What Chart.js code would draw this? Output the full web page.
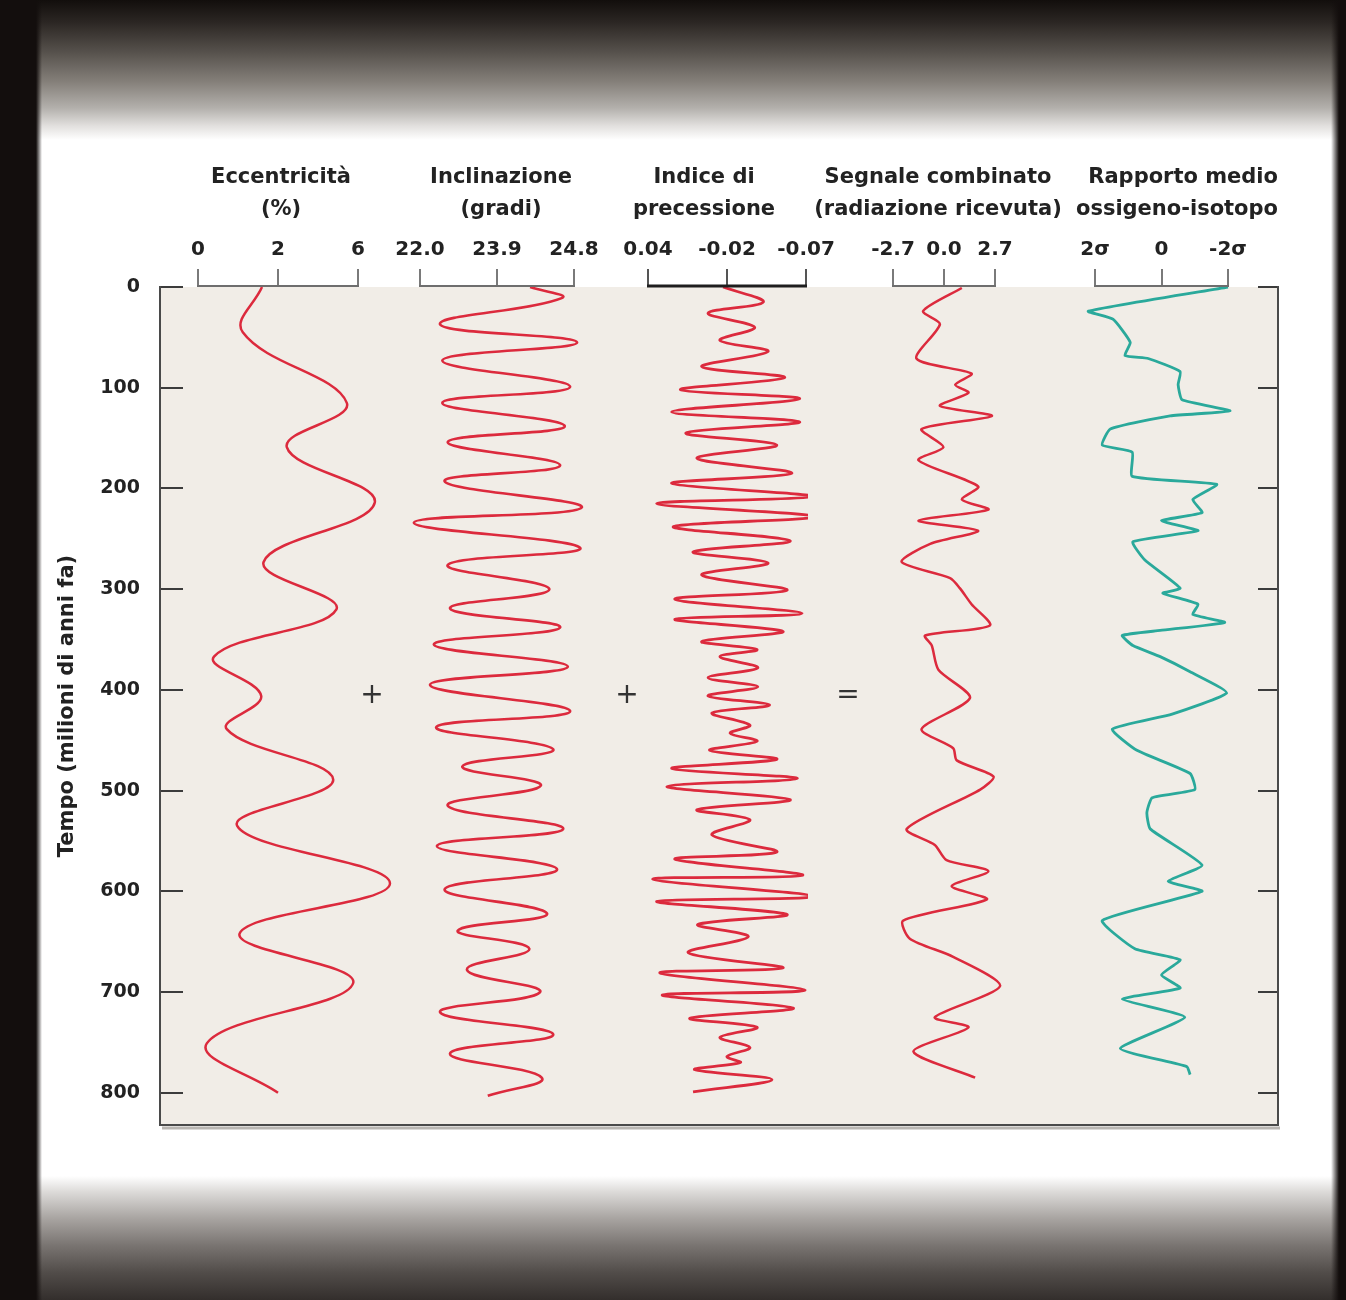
<!DOCTYPE html>
<html>
<head>
<meta charset="utf-8">
<script src="https://cdn.jsdelivr.net/npm/chart.js@4.4.1/dist/chart.umd.min.js"></script>
<style>
  html, body { margin: 0; padding: 0; }
  body {
    width: 1346px; height: 1300px; overflow: hidden;
    background:
      linear-gradient(to right, #130e0d 0px, #130e0d 36px, rgba(19,14,13,0) 42px, rgba(19,14,13,0) 1331px, #130e0d 1339px),
      linear-gradient(to bottom, #120e0c 0px, #2b2623 22px, #56514c 52px, #85807a 82px, #b3b0ac 108px, #e2e0de 126px, #ffffff 140px, #ffffff 1176px, #dcdad8 1192px, #a9a5a2 1218px, #7a7572 1245px, #524d4a 1272px, #332e2c 1300px);
  }
  #wrap { position: absolute; left: 0; top: 0; width: 1346px; height: 1300px; }
</style>
</head>
<body>
<div id="wrap"><canvas id="chart"></canvas></div>
<script>
// time axis (milioni di anni fa)
const timeTicks = [0, 100, 200, 300, 400, 500, 600, 700, 800];

// column headers and their three tick labels (left, middle, right)
const colTitles = [
  ['Eccentricità', '(%)'],
  ['Inclinazione', '(gradi)'],
  ['Indice di', 'precessione'],
  ['Segnale combinato', '(radiazione ricevuta)'],
  ['Rapporto medio', 'ossigeno-isotopo']
];
const colTickLabels = [
  ['0', '2', '6'],
  ['22.0', '23.9', '24.8'],
  ['0.04', '-0.02', '-0.07'],
  ['-2.7', '0.0', '2.7'],
  ['2σ', '0', '-2σ']
];

// curve values: position on each column scale (-1 = left tick, 0 = middle, 1 = right tick)
const eccTime = [0, 45, 115, 159, 214, 273, 320, 367, 406, 439, 489, 535, 592, 642, 691, 751, 800];
const eccValue = [-0.2, -0.44, 0.86, 0.11, 1.21, -0.18, 0.73, -0.8, -0.21, -0.64, 0.69, -0.51, 1.4, -0.48, 0.94, -0.89, 0.0];

const inclTime = [0, 11, 37, 55, 73, 99, 115, 138, 154, 177, 193, 219, 234, 259, 276, 300, 319, 338, 355, 377,
  395, 421, 437, 459, 476, 495, 515, 538, 555, 578, 598, 622, 639, 657, 678, 700, 720, 742, 761, 785, 803];
const inclValue = [0.43, 0.84, -0.74, 1.04, -0.71, 0.95, -0.71, 0.88, -0.64, 0.82, -0.68, 1.10, -1.08, 1.08, -0.64, 0.68, -0.61, 0.82, -0.82, 0.92,
  -0.87, 0.95, -0.79, 0.73, -0.45, 0.57, -0.64, 0.86, -0.78, 0.78, -0.68, 0.65, -0.51, 0.42, -0.39, 0.56, -0.74, 0.73, -0.61, 0.58, -0.12];

const precTime = [0, 15, 26, 40, 53, 64, 79, 90, 102, 111, 124, 134, 145, 157, 170, 185, 195, 208, 215, 228,
  238, 252, 263, 274, 286, 301, 310, 324, 330, 342, 352, 360, 367, 378, 388, 397, 406, 415, 423, 435,
  443, 451, 460, 469, 478, 488, 496, 509, 519, 529, 544, 561, 568, 584, 588, 605, 610, 623, 633, 645,
  661, 676, 681, 698, 703, 716, 726, 735, 745, 755, 764, 770, 777, 787, 799];
const precValue = [-0.05, 0.46, -0.24, 0.35, -0.09, 0.52, -0.32, 0.73, -0.59, 0.92, -0.70, 0.92, -0.52, 0.63, -0.38, 0.82, -0.70, 1.09, -0.89, 1.11,
  -0.68, 0.80, -0.43, 0.52, -0.32, 0.76, -0.66, 0.95, -0.66, 0.71, -0.32, 0.38, -0.09, 0.39, -0.24, 0.39, -0.24, 0.54, -0.19, 0.29,
  0.04, 0.38, -0.22, 0.63, -0.70, 0.89, -0.76, 0.80, -0.38, 0.29, -0.19, 0.63, -0.66, 0.96, -0.94, 1.09, -0.89, 0.76, -0.37, 0.27,
  -0.49, 0.71, -0.85, 0.99, -0.82, 0.84, -0.47, 0.38, -0.09, 0.29, 0.0, 0.17, -0.41, 0.57, -0.43];

const combTime = [1, 24, 37, 71, 86, 97, 105, 118, 128, 141, 159, 172, 198, 211, 221, 232, 242, 255, 273, 289,
  299, 315, 336, 346, 356, 380, 408, 439, 458, 470, 486, 499, 538, 554, 569, 580, 595, 608, 629, 647,
  665, 694, 725, 735, 759, 785];
const combValue = [0.35, -0.41, -0.08, -0.54, 0.54, 0.22, 0.48, -0.08, 0.94, -0.44, -0.01, -0.50, 0.67, 0.35, 0.87, -0.50, 0.67, -0.27, -0.83, 0.12,
  0.31, 0.54, 0.90, -0.37, -0.24, -0.11, 0.51, -0.44, 0.18, 0.25, 0.97, 0.71, -0.73, -0.18, 0.05, 0.87, 0.15, 0.84, -0.80, -0.67,
  0.18, 1.10, -0.18, 0.48, -0.60, 0.61];

const oxyTime = [0, 24, 32, 55, 68, 71, 84, 97, 112, 123, 128, 141, 157, 164, 188, 196, 211, 224, 232, 242,
  253, 271, 299, 304, 315, 325, 333, 341, 346, 356, 367, 382, 403, 424, 439, 460, 483, 499, 507, 522,
  538, 574, 590, 600, 629, 657, 668, 683, 696, 707, 725, 756, 774, 782];
const oxyValue = [1.0, -1.1, -0.73, -0.47, -0.55, -0.2, 0.28, 0.25, 0.31, 1.03, 0.13, -0.77, -0.89, -0.44, -0.44, 0.83, 0.47, 0.61, 0.0, 0.55,
  -0.43, -0.25, 0.28, 0.02, 0.55, 0.47, 0.95, -0.02, -0.59, -0.43, -0.02, 0.43, 0.98, 0.16, -0.74, -0.37, 0.43, 0.5, -0.14, -0.22,
  -0.17, 0.61, 0.1, 0.61, -0.89, -0.4, 0.28, 0.0, 0.28, -0.59, 0.35, -0.62, 0.38, 0.43];

const operatorSymbols = ['+', '+', '='];

// layout of the five columns (pixels)
const slotEdges = [160, 402, 600, 808, 1068, 1278];
const bracketLeft = [198, 420, 648, 893, 1095];
const bracketRight = [358, 574, 806, 995, 1228];
const operatorX = [372, 627, 848];

const RED = '#dc2a3d';
const TEAL = '#2aa99b';
const FONT = '"DejaVu Sans", sans-serif';
const axisIds = ['xE', 'xI', 'xP', 'xS', 'xO'];

Chart.defaults.font.family = FONT;
Chart.defaults.color = '#222';

const toPoints = (times, values) => times.map((t, k) => ({ x: values[k], y: t }));

const scales = {
  y: {
    type: 'linear', position: 'left', reverse: true, min: 0, max: 832, bounds: 'data',
    afterBuildTicks: s => { s.ticks = timeTicks.map(v => ({ value: v })); },
    afterFit: s => { s.width = 120; },
    grid: { drawOnChartArea: false, tickLength: -23, color: '#3c3c3c', lineWidth: 2 },
    border: { display: true, color: '#4a4a4a', width: 2 },
    ticks: { padding: 43, color: '#222', font: { size: 19, weight: 'bold' } },
    title: {
      display: true, text: 'Tempo (milioni di anni fa)', color: '#222',
      font: { size: 21, weight: 'bold' }, padding: { top: 15, bottom: 0 }
    }
  },
  y2: {
    type: 'linear', position: 'right', reverse: true, min: 0, max: 832, bounds: 'data',
    afterBuildTicks: s => { s.ticks = timeTicks.map(v => ({ value: v })); },
    afterFit: s => { s.width = 20; },
    grid: { drawOnChartArea: false, tickLength: -20, color: '#3c3c3c', lineWidth: 2 },
    border: { display: true, color: '#4a4a4a', width: 2 },
    ticks: { display: false }
  }
};

axisIds.forEach((id, i) => {
  const half = (bracketRight[i] - bracketLeft[i]) / 2;
  scales[id] = {
    type: 'linear', position: 'top', stack: 'cols',
    // top boxes are laid out by descending weight, so the first column gets the largest
    weight: axisIds.length - i,
    stackWeight: slotEdges[i + 1] - slotEdges[i],
    min: -1 - (bracketLeft[i] - slotEdges[i]) / half,
    max: 1 + (slotEdges[i + 1] - bracketRight[i]) / half,
    bounds: 'data',
    afterBuildTicks: s => { s.ticks = [-1, 0, 1].map(v => ({ value: v })); },
    afterFit: s => { s.height = 137; },
    grid: { drawOnChartArea: false, tickLength: 18, color: i === 2 ? '#555' : '#7a7a7a', lineWidth: 2 },
    border: { display: false },
    ticks: {
      autoSkip: false, maxRotation: 0, minRotation: 0, padding: 7, color: '#222',
      font: { size: 20, weight: 'bold' },
      callback: v => colTickLabels[i][Math.round(v) + 1]
    },
    title: {
      display: true, text: colTitles[i], color: '#222', align: i === 4 ? 'end' : 'center',
      font: { size: 21, weight: 'bold', lineHeight: 1.55 }, padding: { top: 11, bottom: 0 }
    }
  };
});

const series = [
  { label: 'Eccentricità', t: eccTime, v: eccValue, color: RED, tension: 0.4, width: 2.5 },
  { label: 'Inclinazione', t: inclTime, v: inclValue, color: RED, tension: 0.45, width: 2.6 },
  { label: 'Indice di precessione', t: precTime, v: precValue, color: RED, tension: 0.35, width: 2.8 },
  { label: 'Segnale combinato', t: combTime, v: combValue, color: RED, tension: 0.25, width: 2.5 },
  { label: 'Rapporto medio ossigeno-isotopo', t: oxyTime, v: oxyValue, color: TEAL, tension: 0.15, width: 2.8 }
];

const framePlugin = {
  id: 'frame',
  beforeDraw(chart) {
    const { ctx, chartArea: a } = chart;
    ctx.save();
    ctx.fillStyle = '#f1ede7';
    ctx.fillRect(a.left, a.top, a.right - a.left, a.bottom - a.top);
    ctx.restore();
  },
  afterDraw(chart) {
    const { ctx, chartArea: a } = chart;
    ctx.save();
    // brackets under the column scales
    axisIds.forEach((id, i) => {
      const s = chart.scales[id];
      ctx.strokeStyle = i === 2 ? '#1e1e1e' : '#6e6e6e';
      ctx.lineWidth = i === 2 ? 3 : 2;
      ctx.beginPath();
      ctx.moveTo(s.getPixelForValue(-1) - 1, s.bottom - 1);
      ctx.lineTo(s.getPixelForValue(1) + 1, s.bottom - 1);
      ctx.stroke();
    });
    // bottom edge with its shadow
    ctx.strokeStyle = '#b9b6b2';
    ctx.lineWidth = 3;
    ctx.beginPath();
    ctx.moveTo(a.left + 2, a.bottom + 3);
    ctx.lineTo(a.right + 2, a.bottom + 3);
    ctx.stroke();
    ctx.strokeStyle = '#4a4a4a';
    ctx.lineWidth = 2;
    ctx.beginPath();
    ctx.moveTo(a.left - 1, a.bottom);
    ctx.lineTo(a.right + 1, a.bottom);
    ctx.stroke();
    // + + = between the columns
    const yMid = chart.scales.y.getPixelForValue(406);
    ctx.fillStyle = '#333';
    ctx.font = '28px ' + FONT;
    ctx.textAlign = 'center';
    ctx.textBaseline = 'middle';
    operatorSymbols.forEach((sym, k) => ctx.fillText(sym, operatorX[k], yMid));
    ctx.restore();
  }
};

new Chart(document.getElementById('chart'), {
  type: 'scatter',
  data: {
    datasets: series.map((s, i) => ({
      label: s.label,
      data: toPoints(s.t, s.v),
      xAxisID: axisIds[i],
      yAxisID: 'y',
      showLine: true,
      borderColor: s.color,
      backgroundColor: s.color,
      borderWidth: s.width,
      tension: s.tension,
      pointRadius: 0,
      fill: false
    }))
  },
  options: {
    responsive: true,
    maintainAspectRatio: false,
    animation: false,
    layout: { padding: { top: 150, left: 40, right: 48, bottom: 175 } },
    plugins: { legend: { display: false }, tooltip: { enabled: false } },
    scales: scales
  },
  plugins: [framePlugin]
});
</script>
</body>
</html>
